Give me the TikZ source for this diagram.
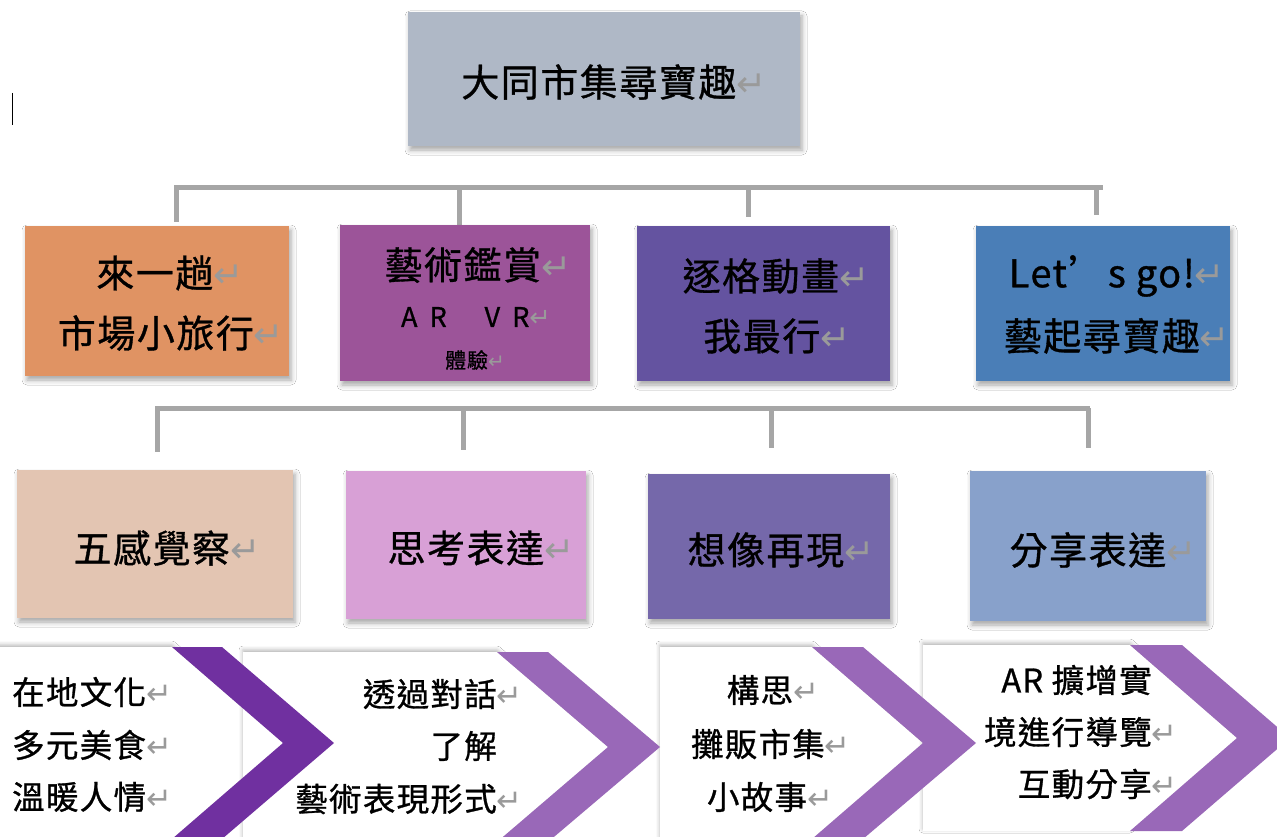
\documentclass[tikz,border=0pt]{standalone}
\usepackage{fontspec}
\setmainfont[LetterSpace=4, FakeBold=0.9]{Noto Sans CJK TC}
\newfontfamily\arrfont[Scale=0.95]{DejaVu Sans}
\usetikzlibrary{shadows.blur}
\definecolor{topc}{HTML}{AFB8C6}
\definecolor{orc}{HTML}{E09363}
\definecolor{artc}{HTML}{9C5499}
\definecolor{indc}{HTML}{6453A0}
\definecolor{bluc}{HTML}{4A7EB7}
\definecolor{peac}{HTML}{E3C5B2}
\definecolor{pinc}{HTML}{D8A0D6}
\definecolor{lavc}{HTML}{7568AA}
\definecolor{skyc}{HTML}{88A1CB}
\definecolor{linec}{HTML}{A6A6A6}
\definecolor{chevA}{HTML}{7030A0}
\definecolor{chevB}{HTML}{9968B8}
\definecolor{retgray}{HTML}{9A9A9A}
\newcommand\ret{{\arrfont\color{retgray}↵}}
\begin{document}
\begin{tikzpicture}[x=1pt,y=-1pt,
  box/.style={draw=none, inner sep=0pt, blur shadow={shadow xshift=2pt, shadow yshift=-4pt, shadow blur radius=5pt, shadow opacity=35}},
  bigtxt/.style={inner sep=0pt, font=\fontsize{38}{44}\selectfont},
  medtxt/.style={inner sep=0pt, font=\fontsize{32.5}{40}\selectfont},
  smalltxt/.style={inner sep=0pt, font=\fontsize{21}{25}\selectfont},
  bar/.style={draw=linec, line width=5pt},
  whitebox/.style={fill=white, blur shadow={shadow xshift=0pt, shadow yshift=2pt, shadow blur radius=4pt, shadow opacity=30}},
]
\useasboundingbox (0,0) rectangle (1277,837);
\fill[white] (0,0) rectangle (1277,837);

% cursor
\coordinate (cur1) at (12,93);
\coordinate (cur2) at (12,125);
\draw[line width=1pt] (cur1) -- (cur2);

% top box
\node[box, fill=topc, minimum width=392pt, minimum height=134pt] (top) at (604,79) {};
\node[bigtxt] (toptxt) at (614,82) {大同市集尋寶趣\ret};

% first bracket
\coordinate (b1l) at (174,188);
\coordinate (b1r) at (1103,188);
\coordinate (d1a) at (176,222);
\coordinate (d1b) at (459,226);
\coordinate (d1c) at (748,217);
\coordinate (d1d) at (1096,215);
\draw[bar] (b1l) -- (b1r);
\foreach \d in {d1a,d1b,d1c,d1d} \draw[bar] (\d |- b1l) -- (\d);

% row 1 boxes
\node[box, fill=orc, minimum width=264pt, minimum height=150pt] (r1a) at (157,301) {};
\node[box, fill=artc, minimum width=250pt, minimum height=156pt] (r1b) at (465,303) {};
\node[box, fill=indc, minimum width=253pt, minimum height=155pt] (r1c) at (763.5,303.5) {};
\node[box, fill=bluc, minimum width=254pt, minimum height=155pt] (r1d) at (1103,303.5) {};

\node[bigtxt] (t1a1) at (170,273) {來一趟\ret};
\node[bigtxt] (t1a2) at (171,333) {市場小旅行\ret};
\node[bigtxt] (t1b1) at (478,265) {藝術鑑賞\ret};
\node[inner sep=0pt, font=\fontsize{27}{32}\selectfont] (t1b2) at (476,317) {A\hspace{0.45em}R\hspace{1.4em}V\hspace{0.45em}R\ret};
\node[smalltxt] (t1b3) at (475,360) {體驗\ret};
\node[bigtxt] (t1c1) at (776,276) {逐格動畫\ret};
\node[bigtxt] (t1c2) at (777,336) {我最行\ret};
\node[bigtxt] (t1d1) at (1117,276) {Let’s go!\ret};
\node[bigtxt] (t1d2) at (1117,336) {藝起尋寶趣\ret};

% second bracket
\coordinate (b2l) at (155,408);
\coordinate (b2r) at (1090,408);
\coordinate (d2a) at (157,452);
\coordinate (d2b) at (463,450);
\coordinate (d2c) at (771,448);
\coordinate (d2d) at (1088,448);
\draw[bar] (b2l) -- (b2r);
\foreach \d in {d2a,d2b,d2c,d2d} \draw[bar] (\d |- b2l) -- (\d);

% row 2 boxes
\node[box, fill=peac, minimum width=276pt, minimum height=148pt] (r2a) at (155,544) {};
\node[box, fill=pinc, minimum width=240pt, minimum height=148pt] (r2b) at (466,545) {};
\node[box, fill=lavc, minimum width=242pt, minimum height=145pt] (r2c) at (769,546.5) {};
\node[box, fill=skyc, minimum width=236pt, minimum height=150pt] (r2d) at (1088,546) {};

\node[bigtxt] (t2a) at (167,548) {五感覺察\ret};
\node[bigtxt] (t2b) at (481,548) {思考表達\ret};
\node[bigtxt] (t2c) at (781,550) {想像再現\ret};
\node[bigtxt] (t2d) at (1103,550) {分享表達\ret};

% bottom white pentagons
\path[whitebox] (-10,647) -- (172,647) -- (283,743) -- (172,839) -- (-10,839) -- cycle;
\path[whitebox] (243,652) -- (497,652) -- (608,747) -- (497,842) -- (243,842) -- cycle;
\path[whitebox] (660,647) -- (812,647) -- (923,743) -- (812,839) -- (660,839) -- cycle;
\path[whitebox] (923,645) -- (1130,645) -- (1237,738) -- (1130,831) -- (923,831) -- cycle;

% purple chevrons
\fill[chevA] (172,647) -- (222,647) -- (334,743) -- (222,839) -- (172,839) -- (283,743) -- cycle;
\fill[chevB] (497,652) -- (548,652) -- (660,747) -- (548,842) -- (497,842) -- (608,747) -- cycle;
\fill[chevB] (812,647) -- (863,647) -- (976,743) -- (863,839) -- (812,839) -- (923,743) -- cycle;
\fill[chevB] (1130,645) -- (1182,645) -- (1290,738) -- (1182,831) -- (1130,831) -- (1237,738) -- cycle;

% bottom texts
\node[medtxt, anchor=west] (p1a) at (12,692) {在地文化\ret};
\node[medtxt, anchor=west] (p1b) at (12,745) {多元美食\ret};
\node[medtxt, anchor=west] (p1c) at (12,797) {溫暖人情\ret};

\node[medtxt, anchor=east] (p2a) at (497,694) {透過對話\rlap{\ret}};
\node[medtxt, anchor=east] (p2b) at (497,746) {了解};
\node[medtxt, anchor=east] (p2c) at (497,799) {藝術表現形式\rlap{\ret}};

\node[medtxt] (p3a) at (760,690) {構思\rlap{\ret}};
\node[medtxt] (p3b) at (758,744) {攤販市集\rlap{\ret}};
\node[medtxt] (p3c) at (757,797) {小故事\rlap{\ret}};

\node[medtxt, anchor=east] (p4a) at (1152,680) {AR 擴增實};
\node[medtxt, anchor=east] (p4b) at (1152,732) {境進行導覽\rlap{\ret}};
\node[medtxt, anchor=east] (p4c) at (1152,784) {互動分享\rlap{\ret}};
\end{tikzpicture}
\end{document}
